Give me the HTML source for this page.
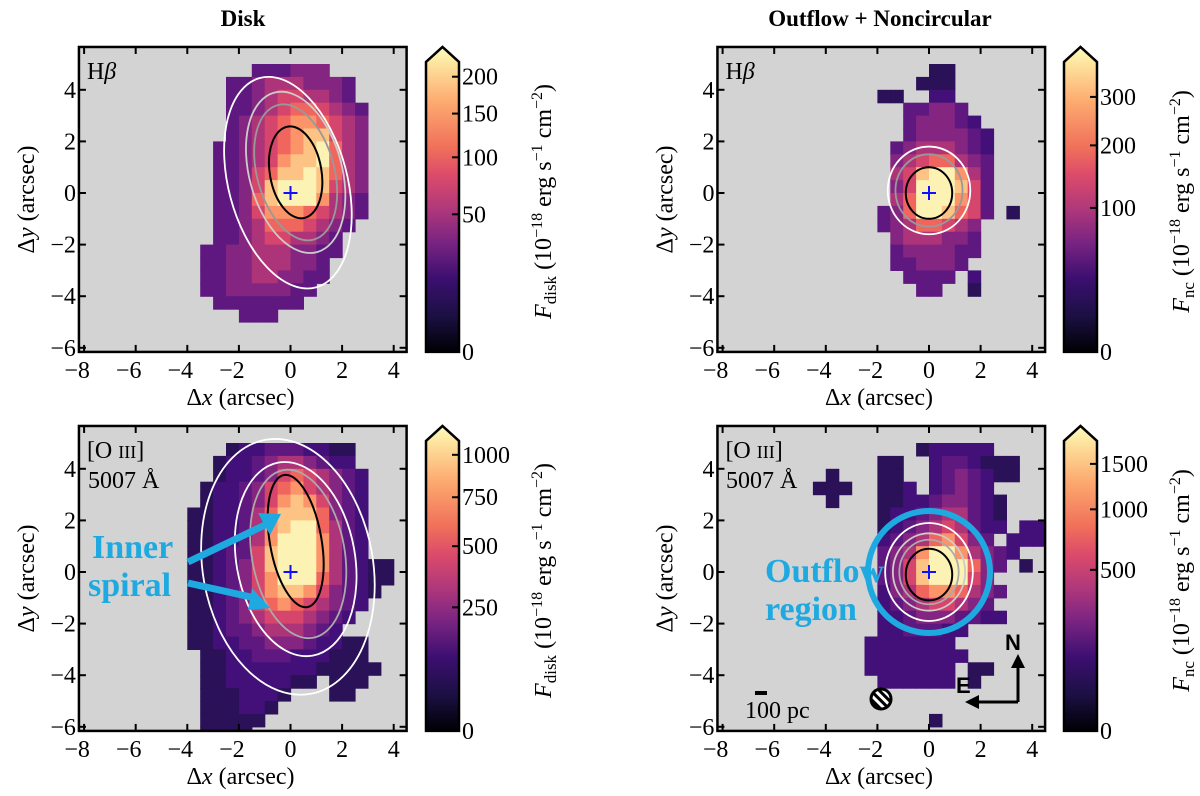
<!DOCTYPE html>
<html><head><meta charset="utf-8">
<style>
html,body{margin:0;padding:0;background:#fff;}
svg{display:block;font-family:"Liberation Serif",serif;}
</style></head>
<body>
<svg id="fig" width="1200" height="796" viewBox="0 0 1200 796" xmlns="http://www.w3.org/2000/svg">
<defs>
<linearGradient id="magma" x1="0" y1="1" x2="0" y2="0">
<stop offset="0" stop-color="#000004"/><stop offset="0.12" stop-color="#1c1044"/>
<stop offset="0.24" stop-color="#3b0f70"/><stop offset="0.36" stop-color="#7a2482"/>
<stop offset="0.47" stop-color="#b0387a"/><stop offset="0.58" stop-color="#dc4b6a"/>
<stop offset="0.67" stop-color="#f0705a"/><stop offset="0.82" stop-color="#fdaa70"/>
<stop offset="0.95" stop-color="#fde6a0"/><stop offset="1" stop-color="#fcfdbf"/>
</linearGradient>
<pattern id="hatch" width="6" height="6" patternUnits="userSpaceOnUse" patternTransform="rotate(-45)">
<rect width="6" height="6" fill="#fff"/><rect width="3" height="6" fill="#000"/></pattern>
</defs>
<text x="243" y="26" text-anchor="middle" font-weight="bold" font-size="23">Disk</text>
<text x="880" y="26" text-anchor="middle" font-weight="bold" font-size="23">Outflow + Noncircular</text>
</svg>
<script>
// ---- data ----
const levelColors = ["#2a1158","#43107a","#5f187f","#842681","#ad3479","#d6456c","#f0665e","#fb9468","#fdc384","#fcf2b4"];
const gridX0 = -5, gridY0 = 5.5, cellSize = 0.5;
const xTicks = [-8,-6,-4,-2,0,2,4];
const yTicks = [-6,-4,-2,0,2,4];
const mapHbDisk = [
"...................",
".......222333......",
".....2234443332....",
".....2234554432....",
".....22345665432...",
".....23456776543...",
".....23456788543...",
"....223456789643...",
"....223457889643...",
"....223568898643...",
"....223589998543...",
"....223689997432...",
"....223577765432...",
"....22346665432....",
"....2234554432.....",
"...22334443322.....",
"...2233444332......",
"...2233443322......",
"...223333322.......",
"....2222222........",
"......222..........",
"...................",
"...................",
"..................."];
const mapHbNc = [
"...................",
"..........00.......",
".........000.......",
"......00..11.......",
"........22332......",
"........233321.....",
"........2333321....",
".......23444321....",
".......34566432....",
".......45899742....",
".......35999852....",
".......46999752....",
"......236998652.0..",
"......23466543.....",
".......3444332.....",
".......2333322.....",
".......223332......",
"........2222.1.....",
".........22..0.....",
"...................",
"...................",
"...................",
"...................",
"..................."];
const mapOiiiDisk = [
"...................",
".....0112221100....",
"....01123443211....",
"....011235654321...",
"...0112356754321...",
"...0112357875321...",
"..00112468886321...",
"..00112478996421...",
"..00112479997421...",
"..00122589997421...",
"..0012358999742100.",
"..0012357999642100.",
"..001235788753210..",
"..00123567654321...",
"..0012345554321....",
"..001223444321.....",
"..00112233321100...",
"...0011222111000...",
"...00111111100000..",
"...001111100.000...",
"...0001110...00....",
"...000110..........",
"...00000...........",
"...0000............"];
const mapOiiiNc = [
"...................",
".........011111....",
"......00..1221000..",
"..0...00..1232100..",
".000..001.12321....",
"..0...0011233210...",
"......0112344210...",
"......0123454211.11",
"......123467532.111",
"......23479974321..",
"......2358999632.0.",
"......235899953....",
"......1346776432...",
"......123455432....",
"......1123332211...",
"......1122211......",
".....1111111.......",
".....11111111......",
".....1111111.00....",
"......111111.0.....",
"...................",
"...................",
"..........0........",
"..................."];
const cbTicksHbDisk = [0,50,100,150,200];
const cbTicksHbNc = [0,100,200,300];
const cbTicksOiiiDisk = [0,250,500,750,1000];
const cbTicksOiiiNc = [0,500,1000,1500];

// ---- helpers ----
const NS="http://www.w3.org/2000/svg";
const svg=document.getElementById('fig');
function mk(tag,attrs,parent){const e=document.createElementNS(NS,tag);for(const k in attrs)e.setAttribute(k,attrs[k]);(parent||svg).appendChild(e);return e;}
const S=25.8;
function panel(id,ox,oy,map,label2,cb,cbPow,cbMax,cbSub,cbx){
  const xs=v=>ox+v*S, ys=v=>oy-v*S;
  const L=xs(-8.2),R=xs(4.5),T=ys(5.66),B=ys(-6.16);
  const g=mk('g',{});
  
  
  mk('clipPath',{id:'clip-'+id},g);
  mk('rect',{x:L,y:T,width:R-L,height:B-T},g.lastChild);
  const bg=mk('rect',{x:L,y:T,width:R-L,height:B-T,fill:'#d3d3d3'},g);
  
  
  const hm=mk('g',{'clip-path':'url(#clip-'+id+')'},g);
  
  
  map.forEach((row,j)=>{for(let i=0;i<row.length;i++){const c=row[i];if(c==='.')continue;
    const x0=gridX0+i*cellSize, y1=gridY0-j*cellSize;
    const r=mk('rect',{x:xs(x0),y:ys(y1),width:S*cellSize+0.6,height:S*cellSize+0.6,fill:levelColors[+c]},hm);
    
    
  }});
  mk('rect',{x:L,y:T,width:R-L,height:B-T,fill:'none',stroke:'#000','stroke-width':2.5},g);
  xTicks.forEach(t=>{const x=xs(t);
    mk('line',{x1:x,y1:B,x2:x,y2:B-7,stroke:'#000','stroke-width':2},g);
    mk('line',{x1:x,y1:T,x2:x,y2:T+7,stroke:'#000','stroke-width':2},g);
    const tx=mk('text',{x:x-(t<0?7:0),y:B+26,'text-anchor':'middle','font-size':24},g);tx.textContent=(t<0?'\u2212':'')+Math.abs(t);
    
    
  });
  yTicks.forEach(t=>{const y=ys(t);
    mk('line',{x1:L,y1:y,x2:L+7,y2:y,stroke:'#000','stroke-width':2},g);
    mk('line',{x1:R,y1:y,x2:R-7,y2:y,stroke:'#000','stroke-width':2},g);
    const tx=mk('text',{x:L-3,y:y+8,'text-anchor':'end','font-size':24},g);tx.textContent=(t<0?'\u2212':'')+Math.abs(t);
    
    
  });
  const xl=mk('text',{x:xs(0)-50,y:B+53,'text-anchor':'middle','font-size':24},g);
  xl.innerHTML='\u0394<tspan font-style="italic">x</tspan> (arcsec)';
  
  
  const yl=mk('text',{transform:`translate(${L-45},${(T+B)/2}) rotate(-90)`,'text-anchor':'middle','font-size':24},g);
  yl.innerHTML='\u0394<tspan font-style="italic">y</tspan> (arcsec)';
  
  
  const cp=mk('path',{d:`M${xs(0)-7},${ys(0)}h14M${xs(0)},${ys(0)-7}v14`,stroke:'#1010ff','stroke-width':2},g);
  
  
  const lt=mk('text',{x:L+8,y:T+32,'font-size':24},g);
  lt.innerHTML=label2;
  
  
  const cbT=T+15, cbB=B, cbL=cbx, cbR=cbx+33;
  const cbar=mk('path',{d:`M${cbL},${cbB}V${cbT}L${(cbL+cbR)/2},${T}L${cbR},${cbT}V${cbB}Z`,fill:'url(#magma)',stroke:'#000','stroke-width':2.5},g);
  
  
  cb.forEach(v=>{const f=Math.pow(v/cbMax,cbPow);const y=cbB-f*(cbB-cbT);
    mk('line',{x1:cbR,y1:y,x2:cbR-7,y2:y,stroke:'#000','stroke-width':2},g);
    const tx=mk('text',{x:cbR+3,y:y+8,'font-size':24},g);tx.textContent=v;
    
    
  });
  const cl=mk('text',{transform:`translate(${cbR+92},${(T+B)/2+2}) rotate(-90)`,'text-anchor':'middle','font-size':24},g);
  cl.innerHTML=`<tspan font-style="italic">F</tspan><tspan font-size="17" dy="5">${cbSub}</tspan><tspan dy="-5"> (10</tspan><tspan font-size="16" dy="-9">\u221218</tspan><tspan dy="9"> erg s</tspan><tspan font-size="16" dy="-9">\u22121</tspan><tspan dy="9"> cm</tspan><tspan font-size="16" dy="-9">\u22122</tspan><tspan dy="9">)</tspan>`;
  
  
  return {g,xs,ys,hm};
}
function contour(p,cx,cy,rx,ry,rot,col,w){
  const e=mk('ellipse',{cx:p.xs(cx),cy:p.ys(cy),rx:rx*S,ry:ry*S,transform:`rotate(${rot},${p.xs(cx)},${p.ys(cy)})`,fill:'none',stroke:col,'stroke-width':w},p.hm);
  
  
}
const hbLabel='H<tspan font-style="italic">\u03b2</tspan>';
const oLabel='[O <tspan font-size="18">III</tspan>]<tspan x="X" dy="30">5007 \u00c5</tspan>';
const p1=panel('hb-disk',290.5,193,mapHbDisk,hbLabel,cbTicksHbDisk,0.5,222,'disk',426);
const p2=panel('hb-nc',929,193,mapHbNc,hbLabel,cbTicksHbNc,0.52,384,'nc',1064);
const p3=panel('oiii-disk',290.5,572,mapOiiiDisk,oLabel.replace('X',88),cbTicksOiiiDisk,0.58,1088,'disk',426);
const p4=panel('oiii-nc',929,572,mapOiiiNc,oLabel.replace('X',726),cbTicksOiiiNc,0.46,1794,'nc',1064);
contour(p1,-0.1,0.4,2.3,4.2,-15,'#fff',1.8);contour(p1,0.2,0.8,1.8,3.2,-15,'#ccc',1.8);contour(p1,0.2,0.8,1.5,2.7,-15,'#999',1.8);contour(p1,0.2,0.8,1.0,1.8,-10,'#000',2);
contour(p2,0,0.1,1.6,1.7,0,'#fff',1.8);contour(p2,0,0.1,1.3,1.4,0,'#999',1.8);contour(p2,0,0,0.9,1.0,0,'#000',2);
contour(p3,-0.1,0.2,3.3,5.0,-10,'#fff',1.8);contour(p3,0.2,0.5,2.3,3.8,-10,'#fff',1.8);contour(p3,0.3,0.7,1.8,3.3,-10,'#aaa',1.8);contour(p3,0.2,1.2,1.0,2.6,-10,'#000',2);
contour(p4,0,0,1.7,1.9,0,'#fff',1.8);contour(p4,0,0,1.4,1.5,0,'#ccc',1.8);contour(p4,0,0,1.15,1.25,0,'#aaa',1.8);contour(p4,0,-0.1,0.9,1.0,0,'#000',2);
function t(txt,x,y,attrs,name){const e=mk('text',Object.assign({x,y},attrs));e.textContent=txt;return e;}
t('Inner',92,558,{'font-size':34,'font-weight':'bold',fill:'#1fa9e1'},'inner-spiral-label');
t('spiral',88,596,{'font-size':34,'font-weight':'bold',fill:'#1fa9e1'},'inner-spiral-label-2');
const a1=mk('path',{d:'M188,562L265,525',stroke:'#1fa9e1','stroke-width':7},svg);
const a1h=mk('path',{d:'M281,514L258,513L270,535Z',fill:'#1fa9e1'});
const a2=mk('path',{d:'M188,583L255,598',stroke:'#1fa9e1','stroke-width':7},svg);
const a2h=mk('path',{d:'M270,608L252,588L248,610Z',fill:'#1fa9e1'});
const oc=mk('circle',{cx:929,cy:572,r:61,fill:'none',stroke:'#1fa9e1','stroke-width':6});
t('Outflow',765,582,{'font-size':34,'font-weight':'bold',fill:'#1fa9e1'},'outflow-label');
t('region',765,620,{'font-size':34,'font-weight':'bold',fill:'#1fa9e1'},'outflow-label-2');
const sb=mk('rect',{x:755,y:691,width:12,height:4,fill:'#000'});
t('100 pc',745,718,{'font-size':24},'scale-bar-label');
const bm=mk('circle',{cx:881,cy:699,r:10,fill:'url(#hatch)',stroke:'#000','stroke-width':3});
const cmp=mk('path',{d:'M1018,702V664M1018,702H976',stroke:'#000','stroke-width':3,fill:'none'});
mk('path',{d:'M1018,654L1011,668H1025Z M965,702L979,695V709Z',fill:'#000'});
t('N',1005,650,{'font-size':22,'font-weight':'bold','font-family':'Liberation Sans, sans-serif'},'compass-north');
t('E',956,693,{'font-size':22,'font-weight':'bold','font-family':'Liberation Sans, sans-serif'},'compass-east');
</script>
</body></html>
